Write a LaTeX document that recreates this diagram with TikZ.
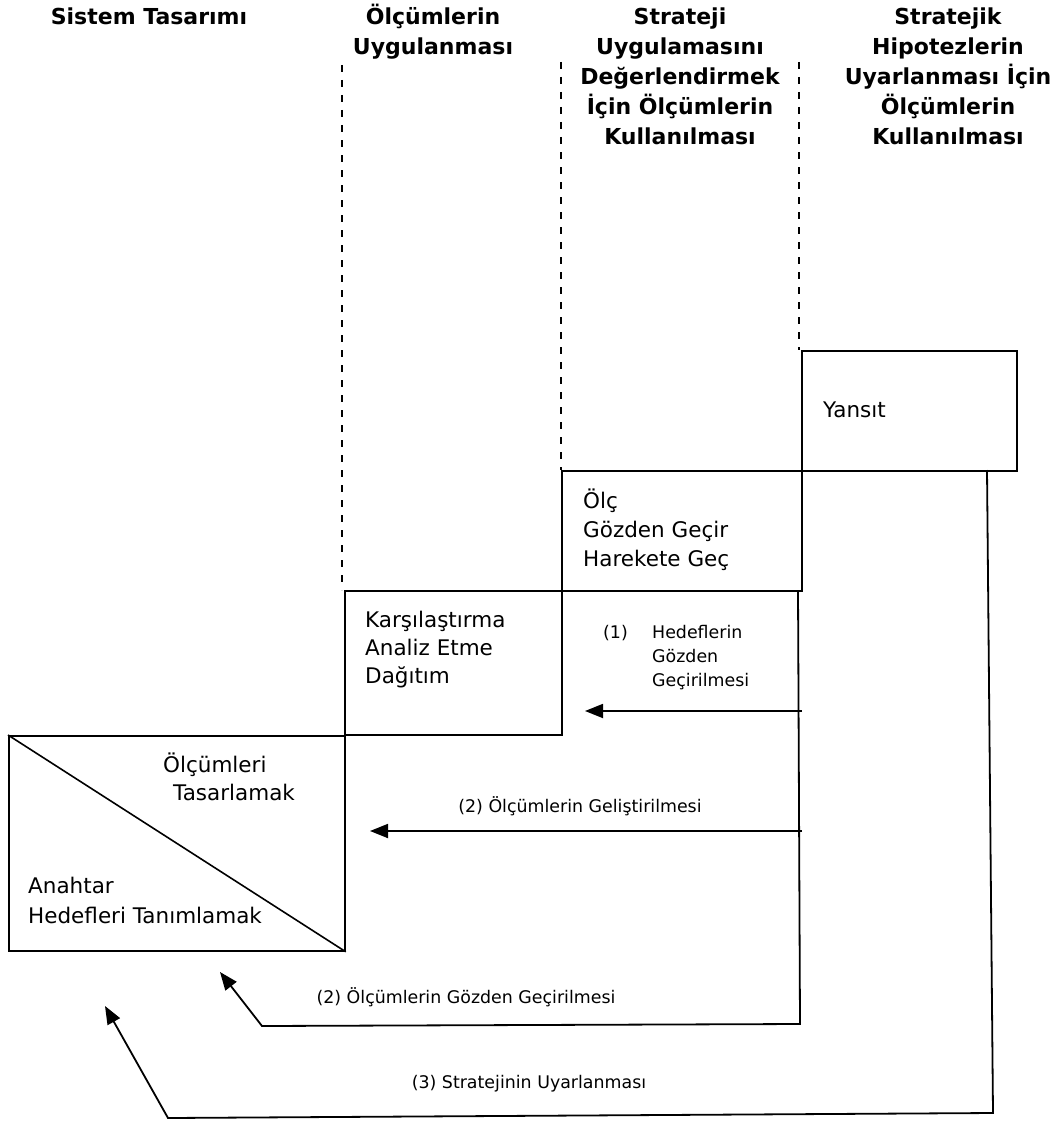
\documentclass[tikz,border=0pt]{standalone}
\usepackage{fontspec}
\setmainfont{DejaVu Sans}
\usetikzlibrary{arrows.meta}
\begin{document}
\begin{tikzpicture}[x=1pt,y=-1pt,
  heading/.style={font=\bfseries\fontsize{22}{30}\selectfont, align=center, anchor=base, inner sep=0pt},
  boxtext/.style={font=\fontsize{21.5}{29}\selectfont, align=left, anchor=base west, inner sep=0pt},
  lbl/.style={font=\fontsize{17.4}{24}\selectfont, inner sep=0pt, anchor=base},
  frame/.style={draw, line width=1.8pt, inner sep=0pt, anchor=north west},
  stage/.style={line width=1.8pt, dash pattern=on 7pt off 8pt},
  link/.style={line width=1.6pt},
  flow/.style={line width=1.8pt, -{Triangle[length=18pt,width=14pt]}},
]
\useasboundingbox (0,0) rectangle (1060,1121);

% column headings (anchored on the baseline of their last line)
\node[heading] (h1) at (149,25) {Sistem Tasarımı};
\node[heading] (h2) at (433,55) {Ölçümlerin\\Uygulanması};
\node[heading] (h3) at (680,145) {Strateji\\Uygulamasını\\Değerlendirmek\\İçin Ölçümlerin\\Kullanılması};
\node[heading] (h4) at (948,145) {Stratejik\\Hipotezlerin\\Uyarlanması İçin\\Ölçümlerin\\Kullanılması};

% stair of boxes
\node[frame, minimum width=215pt, minimum height=120pt] (yansit) at (801,350) {};
\node[frame, minimum width=240pt, minimum height=120pt] (olc) at (561,470) {};
\node[frame, minimum width=217pt, minimum height=144pt] (kars) at (344,590) {};
\node[frame, minimum width=336pt, minimum height=215pt] (tasarim) at (8,735) {};
\draw[link] (tasarim.north west) -- (tasarim.south east);

% column separators
\draw[stage] (kars.north west) ++(-2,-525) -- ++(0,525);
\draw[stage] (olc.north west) ++(0,-408) -- (olc.north west);
\draw[stage] (yansit.north west) ++(-2,-288) -- ++(0,288);

% box texts
\node[boxtext] (t-yansit) at (823,417) {Yansıt};
\node[boxtext] (t-olc) at (583,566) {Ölç\\Gözden Geçir\\Harekete Geç};
\node[boxtext, font=\fontsize{21.5}{28}\selectfont] (t-kars) at (365,683) {Karşılaştırma\\Analiz Etme\\Dağıtım};
\node[boxtext] (t-olcum) at (163,772) {Ölçümleri};
\node[boxtext] (t-tasar) at (173,800) {Tasarlamak};
\node[boxtext, font=\fontsize{21.5}{30}\selectfont] (t-anahtar) at (28,923) {Anahtar\\Hedefleri Tanımlamak};

% feedback loops
\coordinate (a1s) at (802,711);
\coordinate (a1e) at (585,711);
\coordinate (a2s) at (802,831);
\coordinate (a2e) at (370,831);
\coordinate (l2top) at (798,590);
\coordinate (l2bot) at (800,1024);
\coordinate (l2left) at (262,1026);
\coordinate (l2tip) at (220,972);
\coordinate (l3top) at (987,470);
\coordinate (l3bot) at (993,1113);
\coordinate (l3left) at (168,1118);
\coordinate (l3tip) at (105,1006);

\draw[flow] (a1s) -- (a1e);
\draw[flow] (a2s) -- (a2e);
\draw[flow] (l2top) -- (l2bot) -- (l2left) -- (l2tip);
\draw[flow] (l3top) -- (l3bot) -- (l3left) -- (l3tip);

% loop labels
\node[lbl, anchor=base west] (n1) at (603,638) {(1)};
\node[lbl, anchor=base west, align=left] (n1t) at (652,686) {Hedeflerin\\Gözden\\Geçirilmesi};
\node[lbl] (n2a) at (580,812) {(2) Ölçümlerin Geliştirilmesi};
\node[lbl] (n2b) at (466,1003) {(2) Ölçümlerin Gözden Geçirilmesi};
\node[lbl] (n3) at (529,1088) {(3) Stratejinin Uyarlanması};
\end{tikzpicture}
\end{document}
